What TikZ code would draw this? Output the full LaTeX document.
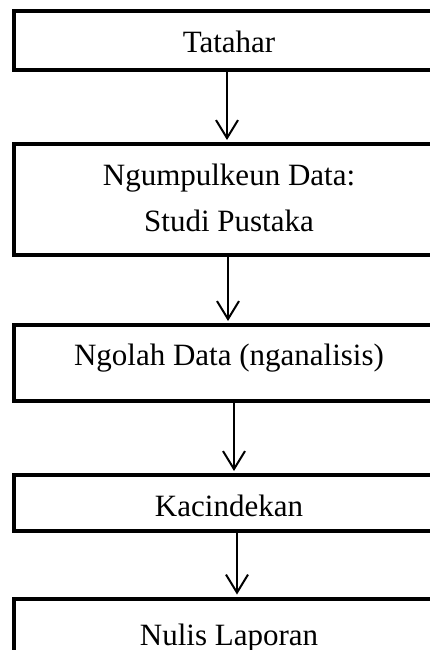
\documentclass[tikz,border=0pt]{standalone}
\usepackage{fontspec}
\setmainfont{Liberation Serif}
\usetikzlibrary{arrows.meta}

\begin{document}
\begin{tikzpicture}[x=1pt, y=-1pt,
    box/.style={draw, line width=4pt, minimum width=430pt, inner sep=0pt, align=center, font=\fontsize{31}{46}\selectfont},
    flow/.style={line width=2pt, -{Straight Barb[length=18pt, width=22pt]}, shorten >=2pt}]
    \useasboundingbox (0,0) rectangle (430,650);
    \clip (0,0) rectangle (430,650);
\node[box, text height=41.5pt, text depth=17.5pt] (tatahar) at (229,41) {Tatahar};
\node[box, text height=87pt, text depth=24pt] (ngumpul) at (229,199.5) {Ngumpulkeun Data:\\ Studi Pustaka};
\node[box, text height=40pt, text depth=36pt] (ngolah) at (229,363) {Ngolah Data (nganalisis)};
\node[box, text height=41pt, text depth=15pt] (kacindekan) at (229,503) {Kacindekan};
\node[box, text height=46.5pt, text depth=23.5pt] (nulis) at (229,633.5) {Nulis Laporan};
    % panah antar lengkah
    \draw[flow] ([xshift=-2pt]tatahar.south) -- ([xshift=-2pt]ngumpul.north);
    \draw[flow] ([xshift=-1pt]ngumpul.south) -- ([xshift=-1pt]ngolah.north);
    \draw[flow] ([xshift=5pt]ngolah.south) -- ([xshift=5pt]kacindekan.north);
    \draw[flow] ([xshift=8pt]kacindekan.south) -- ([xshift=8pt]nulis.north);
\end{tikzpicture}
\end{document}
